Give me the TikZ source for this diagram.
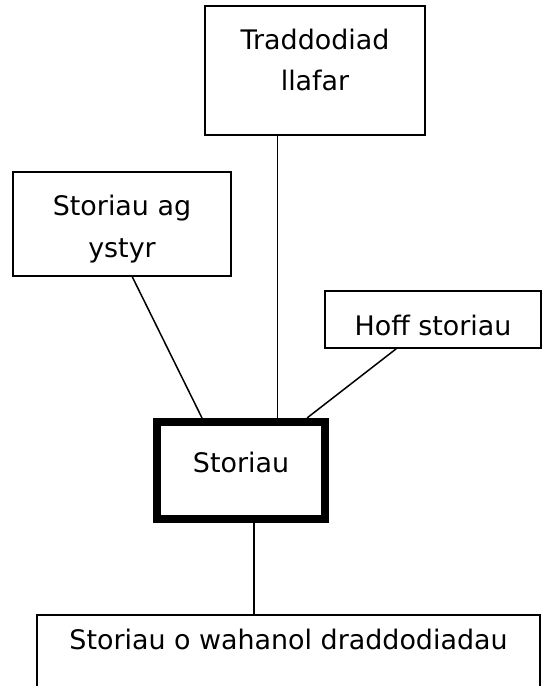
\documentclass[tikz,border=0pt]{standalone}
\usepackage{fontspec}
\setmainfont{DejaVu Sans}
\begin{document}
\begin{tikzpicture}[x=1bp,y=-1bp,
  box/.style={draw, line width=1.5bp, inner sep=0pt, align=center,
    font=\fontsize{27}{42}\selectfont},
  thickbox/.style={box, line width=8bp},
  link/.style={line width=1.5bp}]
\clip (0,0) rectangle (542,686);
\fill[white] (0,0) rectangle (542,686);
\node[box, minimum width=220bp, minimum height=129bp] (trad) at (315,70.5)
  {Traddodiad\\llafar\rule[-21.5bp]{0pt}{0pt}};
\node[box, minimum width=218bp, minimum height=104bp] (ystyr) at (122,224)
  {\rule{0pt}{30.5bp}Storiau ag\\ystyr};
\node[box, minimum width=216bp, minimum height=57bp, text height=31bp, text depth=0pt] (hoff) at (433,319.5)
  {Hoff storiau};
\node[thickbox, minimum width=168bp, minimum height=97bp, text height=10bp, text depth=7bp] (stor) at (241,470.5)
  {Storiau};
\node[box, minimum width=503bp, minimum height=120bp, text height=0pt, text depth=52bp] (bot) at (288.5,675)
  {Storiau o wahanol draddodiadau};
\draw[link] ([xshift=73bp]trad.south west) -- ([xshift=73bp]trad.south west |- stor.north);
\draw[link] ([xshift=120bp]ystyr.south west) -- ([xshift=49bp]stor.north west);
\draw[link] ([xshift=72bp]hoff.south west) -- ([xshift=154bp]stor.north west);
\draw[link] ([xshift=13bp]stor.south) -- ([xshift=13bp]stor.south |- bot.north);
\end{tikzpicture}
\end{document}
